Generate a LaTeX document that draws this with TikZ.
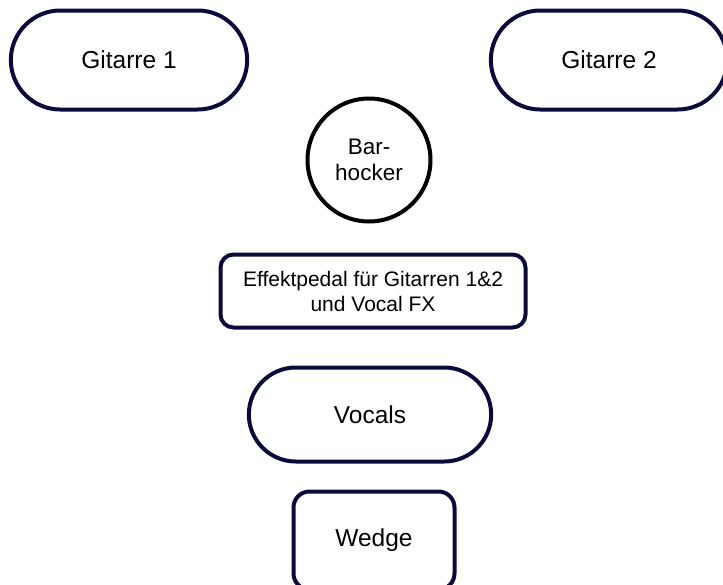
\documentclass[tikz,border=0pt]{standalone}
\usepackage{fontspec}
\setmainfont{Liberation Sans}
\usepackage{xcolor}
\usepackage{tikz}
\usetikzlibrary{positioning, shapes, arrows}

\definecolor{navyline}{HTML}{0B0B3B}

\begin{document}
\begin{tikzpicture}[
		node distance=30pt and 1pt,
		stadium/.style={rounded rectangle, draw=navyline, line width=4pt, minimum width=#1, minimum height=99pt, font=\fontsize{24.5}{28}\selectfont},
		stagebox/.style={rectangle, draw=navyline, line width=4pt, rounded corners=13pt, align=center},
		stool/.style={circle, draw=black, line width=4pt, minimum size=123pt, align=center, font=\fontsize{22.5}{26}\selectfont}
		]
		
		% Page size
		\useasboundingbox (0pt,0pt) rectangle (723pt,-584pt);
		
		% Guitars at the top
		\node[stadium=243pt] (git1) at (129pt,-60pt) {Gitarre 1};
		\node[stadium=243pt] (git2) at (609pt,-60pt) {Gitarre 2};
		
		% Bar stool in the middle
		\node[stool] (hocker) at (369pt,-160pt) {Bar-\\hocker};
		
		% Pedal board, vocals and wedge below
		\node[stagebox, below=29pt of hocker, xshift=4pt, minimum width=305pt, minimum height=73pt, font=\fontsize{21}{25}\selectfont] (pedal) {%
			Effektpedal für Gitarren 1\&2\\
			und Vocal FX
		};
		
		\node[stadium=249pt, below=36pt of pedal, xshift=-3pt, minimum height=94pt] (vocals) {Vocals};
		
		\node[stagebox, below=26pt of vocals, xshift=4pt, minimum width=161pt, minimum height=98pt, rounded corners=16pt, font=\fontsize{24.5}{28}\selectfont] (wedge) {Wedge};
		
	\end{tikzpicture}
\end{document}
